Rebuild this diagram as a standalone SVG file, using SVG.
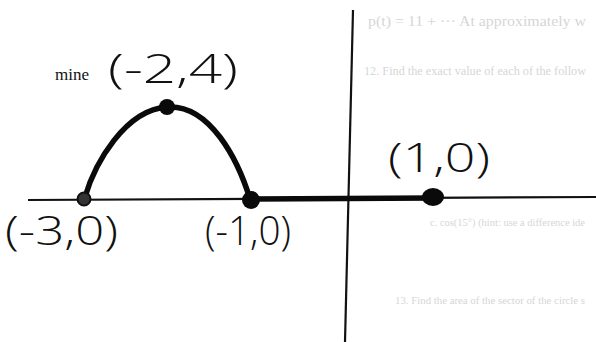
<svg xmlns="http://www.w3.org/2000/svg" width="596" height="342" viewBox="0 0 596 342">
<style>
.hand{font-family:"Open Sans","DejaVu Sans",sans-serif;font-weight:300;font-size:40px;fill:#111}
.print{font-family:"Liberation Serif",serif;font-size:17px;fill:#111}
.faint{font-family:"Liberation Serif",serif;font-size:15px;fill:#d6d6d6}
.faint-s{font-family:"Liberation Serif",serif;font-size:12px;fill:#d6d6d6}
.faint-xs{font-family:"Liberation Serif",serif;font-size:10px;fill:#d6d6d6}
.axis{stroke:#111;stroke-width:2.2;fill:none}
.curve{stroke:#0a0a0a;stroke-width:5.5;fill:none;stroke-linecap:round}
.dot{fill:#0a0a0a}
</style>
<rect width="596" height="342" fill="#ffffff"/>
<g id="bleed-through">
<text class="faint" x="368" y="26" textLength="218" lengthAdjust="spacingAndGlyphs">p(t) = 11 + ···  At approximately w</text>
<text class="faint-s" x="364" y="75" textLength="222" lengthAdjust="spacingAndGlyphs">12. Find the exact value of each of the follow</text>
<text class="faint-xs" x="430" y="226" textLength="155" lengthAdjust="spacingAndGlyphs">c. cos(15°) (hint: use a difference ide</text>
<text class="faint-xs" x="395" y="304" textLength="190" lengthAdjust="spacingAndGlyphs">13. Find the area of the sector of the circle s</text>
</g>
<text class="print" x="55" y="80">mine</text>
<g id="connectors">
<line class="axis" x1="353" y1="10" x2="345" y2="342"/>
<line class="axis" x1="28" y1="200" x2="596" y2="197"/>
<path class="curve" d="M85,197 C95,163 125,110 167,107 C210,104 238,160 250,199"/>
<line class="curve" x1="250" y1="199" x2="433" y2="198" stroke-width="6.5"/>
</g>
<g id="point-m3-0">
<circle cx="84" cy="199" r="6.5" fill="#333" stroke="#111" stroke-width="2"/>
<text class="hand" x="5" y="245" textLength="113" lengthAdjust="spacingAndGlyphs">(-3,0)</text>
</g>
<g id="point-m2-4">
<circle class="dot" cx="167" cy="107" r="8"/>
<text class="hand" x="108" y="83" textLength="130" lengthAdjust="spacingAndGlyphs">(-2,4)</text>
</g>
<g id="point-m1-0">
<circle class="dot" cx="251" cy="200" r="9"/>
<text class="hand" x="205" y="245" textLength="86" lengthAdjust="spacingAndGlyphs">(-1,0)</text>
</g>
<g id="point-1-0">
<ellipse class="dot" cx="433" cy="197" rx="11" ry="9"/>
<text class="hand" x="388" y="172" textLength="102" lengthAdjust="spacingAndGlyphs">(1,0)</text>
</g>
</svg>
